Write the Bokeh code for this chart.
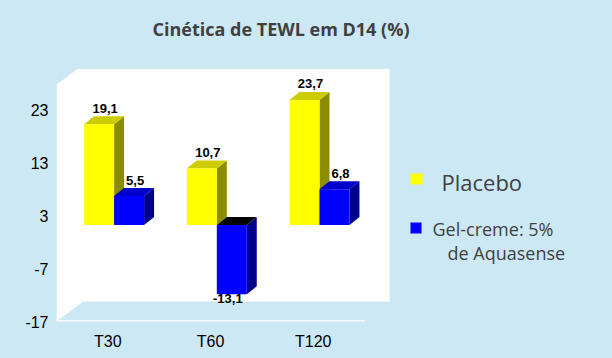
import numpy as np
from bokeh.plotting import figure
from bokeh.models import ColumnDataSource, FixedTicker, Label, BoxAnnotation, Range1d
from bokeh.core.properties import value
from bokeh.embed import file_html
from bokeh.resources import INLINE

# ---- data -------------------------------------------------------------
categories = ["T30", "T60", "T120"]
placebo = [19.1, 10.7, 23.7]
gel_creme = [5.5, -13.1, 6.8]
y_ticks = [-17, -7, 3, 13, 23]
legend_placebo = "Placebo"
legend_gel = ["Gel-creme: 5%", "de Aquasense"]
title_text = "Cinética de TEWL em D14 (%)"

# ---- layout / style constants ----------------------------------------
BG = "#cde8f5"
W, H = 612, 358
FRAME_L, FRAME_B = 56, 321          # frame left / bottom in page pixels
PXX, PXY = 102.7, 5.2825            # pixels per data unit
X_LO, Y_LO = -0.5, -17.0
X_HI = X_LO + (W - FRAME_L) / PXX
Y_HI = Y_LO + FRAME_B / PXY


def X(px):
    return X_LO + (px - FRAME_L) / PXX


def Y(py):
    return Y_LO + (FRAME_B - py) / PXY


WALL_X_HI, WALL_Y_HI = X(389), Y(68.5)
FLOOR_X_HI = 2.5
WALL_TOP_DX, WALL_TOP_DY = 0.205, 3.0
WALL_BOT_DX, WALL_BOT_DY = 0.26, 3.8
BAR_W = 0.292
BAR_DX, BAR_DY = 0.097, 1.51
OX, OY = -0.231, 1.25

YELLOW = ("#ffff00", "#cccc00", "#8c8c00")
BLUE = ("#0000ff", "#0000cc", "#00008c")
NEG_TOP = "#050505"

p = figure(width=W, height=H, x_range=Range1d(X_LO, X_HI), y_range=Range1d(Y_LO, Y_HI),
           output_backend="svg", toolbar_location=None,
           min_border_left=FRAME_L, min_border_right=0, min_border_top=0,
           min_border_bottom=H - FRAME_B)
p.background_fill_color = BG
p.border_fill_color = BG
p.outline_line_color = None
p.grid.visible = False

# walls (white) and floor edge
wall_xs = [X_LO, X_LO + WALL_TOP_DX, WALL_X_HI, WALL_X_HI, X_LO + WALL_BOT_DX, X_LO]
wall_ys = [WALL_Y_HI - WALL_TOP_DY, WALL_Y_HI, WALL_Y_HI, Y_LO + WALL_BOT_DY, Y_LO + WALL_BOT_DY, Y_LO]
p.patch(wall_xs, wall_ys, fill_color="white", line_color=None)
p.line([X_LO, FLOOR_X_HI], [Y_LO, Y_LO], line_color="white", line_width=2.5)

xpos = np.arange(len(categories), dtype=float)


def draw_bars(vals, shift, colors):
    v = np.asarray(vals, dtype=float)
    left = xpos + OX + shift
    right = left + BAR_W
    top = v + OY
    hi = np.maximum(top, OY)
    lo = np.minimum(top, OY)
    side = ColumnDataSource(dict(
        xs=[[r, r, r + BAR_DX, r + BAR_DX] for r in right],
        ys=[[l, h, h + BAR_DY, l + BAR_DY] for l, h in zip(lo, hi)]))
    p.patches("xs", "ys", source=side, fill_color=colors[2], line_color=None)
    topf = ColumnDataSource(dict(
        xs=[[l, r, r + BAR_DX, l + BAR_DX] for l, r in zip(left, right)],
        ys=[[h, h, h + BAR_DY, h + BAR_DY] for h in hi],
        c=[colors[1] if val >= 0 else NEG_TOP for val in v]))
    p.patches("xs", "ys", source=topf, fill_color="c", line_color=None)
    p.quad(left=left, right=right, bottom=lo, top=hi, fill_color=colors[0], line_color=None)

    labels = [f"{val:.1f}".replace(".", ",") for val in v]
    pos = v >= 0
    cx = (left + right) / 2
    src_pos = ColumnDataSource(dict(x=cx[pos] + BAR_DX / 2, y=hi[pos] + BAR_DY,
                                    t=[l for l, k in zip(labels, pos) if k]))
    p.text("x", "y", text="t", source=src_pos, text_align="center", text_baseline="alphabetic",
           y_offset=-8, x_offset=1, text_font=value("Liberation Sans"), text_font_style="bold",
           text_font_size="13px", text_color="black")
    neg = ~pos
    if neg.any():
        src_neg = ColumnDataSource(dict(x=cx[neg], y=lo[neg],
                                        t=[l for l, k in zip(labels, neg) if k]))
        p.text("x", "y", text="t", source=src_neg, text_align="center", text_baseline="top",
               y_offset=0, x_offset=-4, text_font=value("Liberation Sans"), text_font_style="bold",
               text_font_size="13px", text_color="black")


draw_bars(placebo, 0.0, YELLOW)
draw_bars(gel_creme, BAR_W, BLUE)

# axes
for ax in (p.xaxis, p.yaxis):
    ax.axis_line_color = None
    ax.major_tick_line_color = None
    ax.minor_tick_line_color = None
    ax.major_tick_in = 0
    ax.major_tick_out = 0
    ax.minor_tick_in = 0
    ax.minor_tick_out = 0
    ax.major_label_text_font = "Liberation Sans"
    ax.major_label_text_font_size = "16px"
    ax.major_label_text_color = "black"
p.xaxis.ticker = FixedTicker(ticks=list(xpos))
p.xaxis.major_label_overrides = {float(i): c for i, c in enumerate(categories)}
p.xaxis.major_label_standoff = 11
p.yaxis.ticker = FixedTicker(ticks=y_ticks)
p.yaxis.major_label_overrides = {float(t): str(t) for t in y_ticks}
p.yaxis.major_label_standoff = 8

# title
p.add_layout(Label(x=X(280.5), y=Y(28), text=title_text,
                   text_align="center", text_baseline="alphabetic", text_font="Open Sans",
                   text_font_style="bold", text_font_size="18px", text_color="#404040"))

# legend
p.add_layout(BoxAnnotation(left=X(410), right=X(422), bottom=Y(184), top=Y(173),
                           fill_color=YELLOW[0], fill_alpha=1, line_color=None))
p.add_layout(BoxAnnotation(left=X(410), right=X(421), bottom=Y(233), top=Y(222),
                           fill_color=BLUE[0], fill_alpha=1, line_color=None))
p.add_layout(Label(x=X(441), y=Y(181.3), text=legend_placebo,
                   text_baseline="alphabetic", text_font="Open Sans", text_font_size="22px",
                   text_color="#404040"))
p.add_layout(Label(x=X(432), y=Y(228.7), text=legend_gel[0],
                   text_baseline="alphabetic", text_font="Open Sans", text_font_size="18px",
                   text_color="#404040"))
p.add_layout(Label(x=X(447), y=Y(252), text=legend_gel[1],
                   text_baseline="alphabetic", text_font="Open Sans", text_font_size="18px",
                   text_color="#404040"))

html = file_html(p, INLINE)
html = html.replace("</head>", "<style>html, body { background: #cde8f5; }</style></head>", 1)
open("out.html", "w").write(html)
